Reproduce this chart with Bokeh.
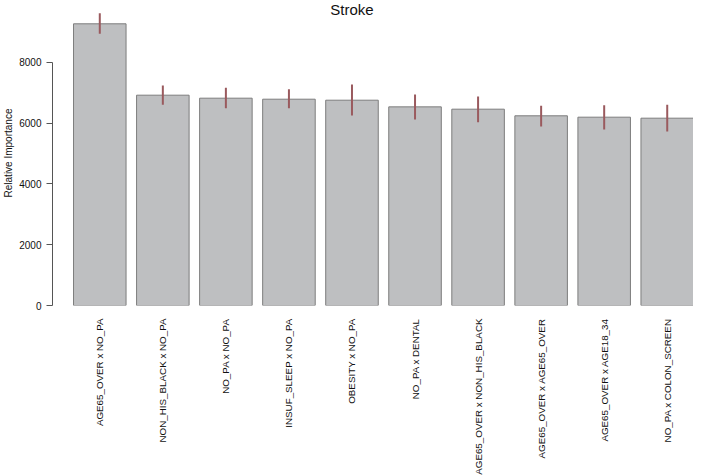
import math
from bokeh.plotting import figure
from bokeh.models import Range1d, FixedTicker, LinearAxis, Label, ColumnDataSource
from bokeh.embed import file_html
from bokeh.resources import INLINE

categories = ["AGE65_OVER x NO_PA", "NON_HIS_BLACK x NO_PA", "NO_PA x NO_PA",
              "INSUF_SLEEP x NO_PA", "OBESITY x NO_PA", "NO_PA x DENTAL",
              "AGE65_OVER x NON_HIS_BLACK", "AGE65_OVER x AGE65_OVER",
              "AGE65_OVER x AGE18_34", "NO_PA x COLON_SCREEN"]
importance = [9274, 6924, 6825, 6792, 6759, 6540, 6463, 6245, 6200, 6167]
err_low = [8944, 6607, 6496, 6496, 6255, 6123, 6035, 5893, 5794, 5728]
err_high = [9620, 7243, 7166, 7122, 7276, 6946, 6881, 6574, 6595, 6607]
y_ticks = [0, 2000, 4000, 6000, 8000]
title_text = "Stroke"
y_label = "Relative Importance"

FONT = "Liberation Sans"
WIDTH, SPACE = 1.0, 0.2
Y_TOP = 10041
centers = [SPACE + WIDTH / 2 + i * (WIDTH + SPACE) for i in range(len(categories))]

src = ColumnDataSource(dict(x=centers, top=importance, lo=err_low, hi=err_high))

p = figure(width=693, frame_height=305, output_backend="svg", toolbar_location=None,
           x_range=Range1d(-0.2, 12.0), y_range=Range1d(0, Y_TOP),
           x_axis_location=None, y_axis_location=None,
           min_border_left=0, min_border_right=0, min_border_top=0, min_border_bottom=0)
p.outline_line_color = None
p.grid.visible = False
p.background_fill_color = "white"

p.vbar(x="x", top="top", bottom=0, width=WIDTH, source=src,
       fill_color="#bebfc1", line_color="#7d7d7d", line_width=1)
p.segment(x0="x", y0="lo", x1="x", y1="hi", source=src,
          line_color="#9a5a5e", line_width=2)

yaxis = LinearAxis(bounds=(0, 8000), ticker=FixedTicker(ticks=y_ticks))
yaxis.axis_label = y_label
yaxis.axis_label_text_font = FONT
yaxis.axis_label_text_font_size = "10px"
yaxis.axis_label_text_font_style = "normal"
yaxis.axis_label_text_color = "#111111"
yaxis.axis_label_standoff = 2
yaxis.major_label_text_font = FONT
yaxis.major_label_text_font_size = "10px"
yaxis.major_label_text_color = "#111111"
yaxis.major_label_standoff = 5
yaxis.major_tick_in = 0
yaxis.major_tick_out = 6
yaxis.minor_tick_line_color = None
yaxis.axis_line_color = "#555555"
yaxis.major_tick_line_color = "#555555"
p.add_layout(yaxis, "left")

xaxis = LinearAxis(ticker=FixedTicker(ticks=centers),
                   major_label_overrides={c: lab for c, lab in zip(centers, categories)})
xaxis.major_label_orientation = math.pi / 2
xaxis.major_label_text_font = FONT
xaxis.major_label_text_font_size = "9.8px"
xaxis.major_label_text_color = "#111111"
xaxis.major_label_standoff = 13
xaxis.major_tick_in = 0
xaxis.major_tick_out = 0
xaxis.axis_line_color = None
xaxis.major_tick_line_color = None
xaxis.minor_tick_line_color = None
p.add_layout(xaxis, "below")

p.add_layout(Label(x=5.5, y=Y_TOP, text=title_text, text_align="center",
                   text_baseline="top", text_font=FONT, text_font_size="15px",
                   text_color="#111111", y_offset=0))

open("out.html", "w").write(file_html(p, INLINE))
